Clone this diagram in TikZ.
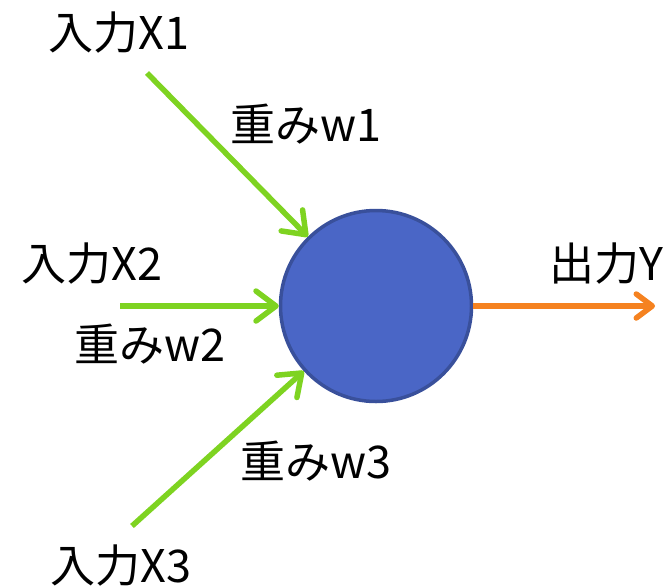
\documentclass[tikz,border=0pt]{standalone}
\usepackage{fontspec}
\setmainfont{Noto Sans CJK JP}
\usetikzlibrary{arrows.meta}
\definecolor{nodefill}{RGB}{74,102,198}
\definecolor{nodeline}{RGB}{57,80,155}
\definecolor{ingreen}{RGB}{126,211,33}
\definecolor{outorange}{RGB}{245,130,32}
\tikzset{
  lbl/.style={inner sep=0pt, font=\fontsize{45}{52}\selectfont},
  neuron/.style={circle, fill=nodefill, draw=nodeline, line width=3.5pt, minimum size=191pt, inner sep=0pt},
  inarrow/.style={draw=ingreen, line width=5.5pt, -{Straight Barb[length=20pt,width=30pt,round]}},
  outarrow/.style={draw=outorange, line width=5.5pt, -{Straight Barb[length=16pt,width=24pt,round]}}
}
\begin{document}
\begin{tikzpicture}[x=1pt,y=-1pt]
\useasboundingbox (0,0) rectangle (671,587);
\node[neuron] (n) at (376,306) {};
\coordinate (s1) at (147,73);
\coordinate (s2) at (120,306);
\coordinate (s3) at (132,526);
\coordinate (e) at (655,306);
\draw[inarrow] (s1) -- (n);
\draw[inarrow] (s2) -- (n);
\draw[inarrow] (s3) -- (n);
\draw[outarrow] (n) -- (e);
\node[lbl] (x1) at (119,33) {入力X1};
\node[lbl] (w1) at (306,124) {重みw1};
\node[lbl] (x2) at (92,264) {入力X2};
\node[lbl] (w2) at (150,344) {重みw2};
\node[lbl] (w3) at (316,461) {重みw3};
\node[lbl] (x3) at (121,566) {入力X3};
\node[lbl] (y) at (606,264) {出力Y};
\end{tikzpicture}
\end{document}
